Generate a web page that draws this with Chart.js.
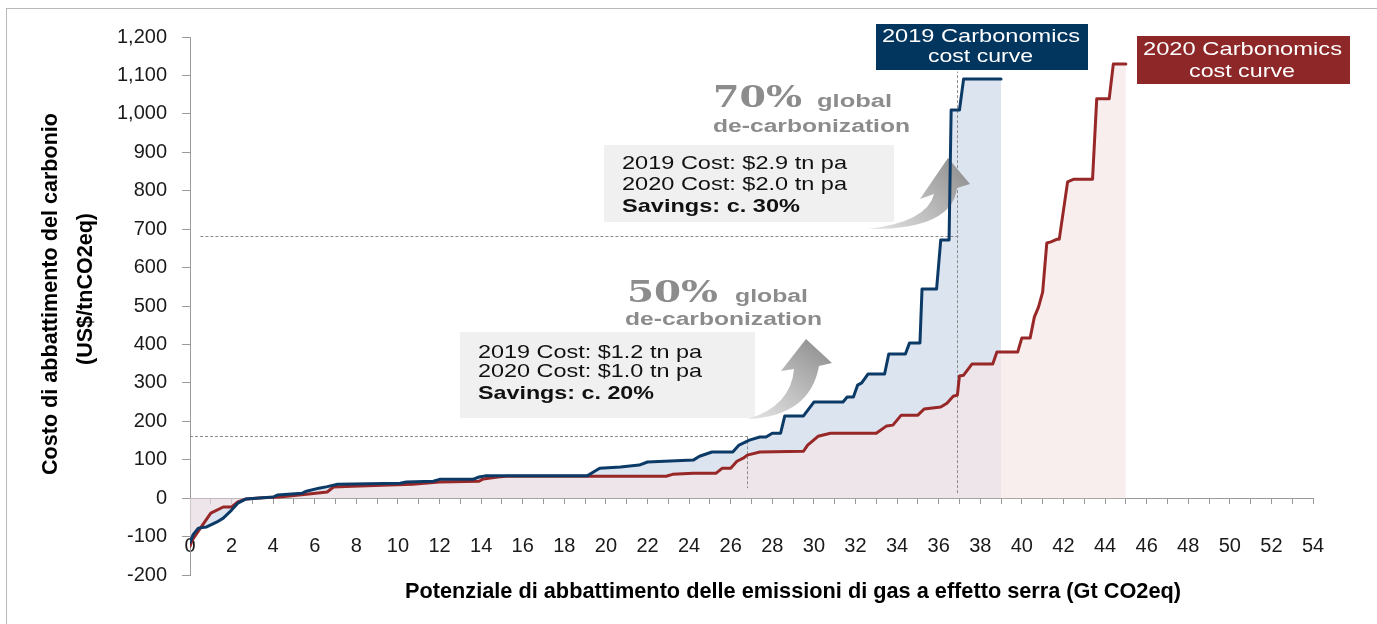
<!DOCTYPE html>
<html>
<head>
<meta charset="utf-8">
<script src="https://cdn.jsdelivr.net/npm/chart.js@4"></script>
<style>
  html, body { margin: 0; padding: 0; background: #fff; }
  #wrap { width: 1377px; height: 624px; }
</style>
</head>
<body>
<div id="wrap"><canvas id="costCurve" width="1377" height="624"></canvas></div>
<script>
// 2019 Carbonomics cost curve (Gt CO2eq vs US$/tnCO2eq)
const x2019 = [0.0, 0.15, 0.4, 0.8, 1.3, 1.6, 2.0, 2.3, 2.7, 3.5, 4.0, 4.2, 5.4, 5.6, 6.2, 6.6, 7.1, 10.1, 10.4, 11.7, 12.0, 13.6, 13.9, 14.2, 19.1, 19.4, 19.7, 20.7, 21.6, 22.0, 24.2, 24.5, 25.1, 26.1, 26.4, 26.9, 27.4, 27.7, 28.0, 28.4, 28.6, 29.5, 30.0, 31.4, 31.6, 31.9, 32.1, 32.3, 32.6, 33.4, 33.6, 34.4, 34.6, 35.1, 35.2, 35.9, 36.1, 36.5, 36.6, 37.0, 37.2, 39.0]
const y2019 = [-115, -95, -78, -75, -62, -52, -31, -13, -2, 1, 3, 8, 13, 18, 26, 30, 36, 39, 42, 44, 49, 49, 55, 58, 58, 68, 78, 81, 86, 94, 99, 109, 120, 120, 138, 151, 159, 159, 169, 169, 214, 214, 250, 250, 263, 263, 294, 300, 323, 323, 375, 375, 404, 404, 544, 544, 672, 672, 1010, 1010, 1091, 1091]

// 2020 Carbonomics cost curve
const x2020 = [0.0, 0.1, 0.5, 1.0, 1.6, 2.0, 2.3, 2.7, 3.5, 4.3, 5.6, 6.6, 6.9, 7.8, 10.7, 12.0, 13.9, 14.1, 14.8, 15.2, 22.9, 23.2, 24.2, 25.3, 25.6, 26.0, 26.3, 26.6, 26.8, 27.4, 29.5, 29.7, 30.2, 30.8, 33.0, 33.5, 33.8, 34.2, 35.0, 35.3, 36.1, 36.4, 36.7, 36.9, 37.0, 37.2, 37.6, 38.6, 38.8, 39.8, 40.0, 40.4, 40.6, 40.8, 41.0, 41.2, 41.4, 41.7, 41.8, 42.2, 42.5, 43.4, 43.6, 44.2, 44.4, 45.0]
const y2020 = [-125, -110, -78, -39, -23, -23, -10, -2, 1, 3, 10, 16, 29, 31, 36, 42, 44, 50, 55, 57, 57, 62, 65, 65, 78, 78, 96, 104, 112, 120, 122, 138, 161, 169, 169, 188, 190, 216, 216, 232, 237, 247, 265, 268, 318, 320, 349, 349, 380, 380, 417, 417, 471, 497, 536, 664, 667, 674, 674, 823, 830, 830, 1039, 1039, 1130, 1130]

// dashed guide lines, in data units: [xFrom, xTo, y] and [x, yFrom, yTo]
const guideH = [[0.5, 37.0, 683], [0, 26.8, 161]]
const guideV = [[36.9, 13, 1110], [26.8, 161, 26]]

const blue = '#0c3a67'
const red = '#982828'
const toPts = (xs, ys) => xs.map((x, i) => ({ x: x, y: ys[i] }))

function fitText(ctx, text, left, cy, width, font, color) {
  ctx.save()
  ctx.font = font
  const w = ctx.measureText(text).width
  ctx.translate(left, cy)
  ctx.scale(width / w, 1)
  ctx.fillStyle = color
  ctx.textBaseline = 'middle'
  ctx.textAlign = 'left'
  ctx.fillText(text, 0, 0)
  ctx.restore()
}

function drawArrow(ctx, p) {
  const g = ctx.createLinearGradient(p.tail[0], p.tail[1], p.tip[0], p.tip[1])
  g.addColorStop(0, 'rgba(225,225,225,0.9)')
  g.addColorStop(1, 'rgba(150,150,150,1)')
  ctx.save()
  ctx.fillStyle = g
  ctx.beginPath()
  ctx.moveTo(p.tail[0], p.tail[1])
  ctx.quadraticCurveTo(p.outerCtl[0], p.outerCtl[1], p.b[0], p.b[1])
  ctx.lineTo(p.r[0], p.r[1])
  ctx.lineTo(p.tip[0], p.tip[1])
  ctx.lineTo(p.l[0], p.l[1])
  ctx.lineTo(p.a[0], p.a[1])
  ctx.quadraticCurveTo(p.innerCtl[0], p.innerCtl[1], p.tail[0], p.tail[1])
  ctx.fill()
  ctx.restore()
}

const notes = {
  id: 'notes',
  beforeDatasetDraw(chart, args) {
    if (args.index !== 1) return
    const ctx = chart.ctx
    const xs = chart.scales.x, ys = chart.scales.y
    // dashed guides
    ctx.save()
    ctx.strokeStyle = '#8c8c8c'
    ctx.lineWidth = 1
    ctx.setLineDash([3, 2])
    guideH.forEach(g => {
      ctx.beginPath()
      ctx.moveTo(xs.getPixelForValue(g[0]), Math.round(ys.getPixelForValue(g[2])) + 0.5)
      ctx.lineTo(xs.getPixelForValue(g[1]), Math.round(ys.getPixelForValue(g[2])) + 0.5)
      ctx.stroke()
    })
    guideV.forEach(g => {
      ctx.beginPath()
      ctx.moveTo(Math.round(xs.getPixelForValue(g[0])) + 0.5, ys.getPixelForValue(g[1]))
      ctx.lineTo(Math.round(xs.getPixelForValue(g[0])) + 0.5, ys.getPixelForValue(g[2]))
      ctx.stroke()
    })
    ctx.restore()

    // grey boxes
    ctx.fillStyle = '#f0f0f0'
    ctx.fillRect(460, 332, 295, 86)
    ctx.fillRect(604, 145, 290, 77)
    const f = '19px "Liberation Sans", Arial, sans-serif'
    const fb = 'bold 19px "Liberation Sans", Arial, sans-serif'
    fitText(ctx, '2019 Cost: $1.2 tn pa', 478, 353, 224, f, '#111')
    fitText(ctx, '2020 Cost: $1.0 tn pa', 478, 372, 224, f, '#111')
    fitText(ctx, 'Savings: c. 20%', 478, 394, 176, fb, '#111')
    fitText(ctx, '2019 Cost: $2.9 tn pa', 622, 164, 225, f, '#111')
    fitText(ctx, '2020 Cost: $2.0 tn pa', 622, 185, 225, f, '#111')
    fitText(ctx, 'Savings: c. 30%', 622, 207, 178, fb, '#111')

    // de-carbonization headings
    const serif = 'bold 30px "DejaVu Serif", "Liberation Serif", serif'
    const gb = 'bold 18px "Liberation Sans", Arial, sans-serif'
    const grey = '#8c8c8c'
    fitText(ctx, '50%', 627, 294, 91, serif, grey)
    fitText(ctx, 'global', 735, 297, 73, gb, grey)
    fitText(ctx, 'de-carbonization', 625, 320, 197, gb, grey)
    fitText(ctx, '70%', 713, 99, 89, serif, grey)
    fitText(ctx, 'global', 817, 102, 75, gb, grey)
    fitText(ctx, 'de-carbonization', 713, 127, 197, gb, grey)

    // curved arrows
    drawArrow(ctx, { tail: [748, 419], outerCtl: [810, 416], b: [819, 366], r: [832, 363], tip: [806, 339], l: [781, 371], a: [794, 369], innerCtl: [791, 406] })
    drawArrow(ctx, { tail: [868, 229], outerCtl: [952, 230], b: [957, 188], r: [970, 184], tip: [948, 158], l: [920, 199], a: [934, 194], innerCtl: [927, 222] })
  },
  afterDraw(chart) {
    const ctx = chart.ctx
    // outer frame
    ctx.save()
    ctx.strokeStyle = '#b8b8b8'
    ctx.lineWidth = 1
    ctx.strokeRect(6.5, 8.5, 1420, 700)
    ctx.restore()

    // curve labels
    ctx.fillStyle = '#02365f'
    ctx.fillRect(876, 24, 212, 46)
    ctx.fillStyle = '#8e2727'
    ctx.fillRect(1137, 36, 213, 48)
    const lf = '19px "Liberation Sans", Arial, sans-serif'
    fitText(ctx, '2019 Carbonomics', 882, 37, 198, lf, '#fff')
    fitText(ctx, 'cost curve', 928, 57, 105, lf, '#fff')
    fitText(ctx, '2020 Carbonomics', 1143, 50, 199, lf, '#fff')
    fitText(ctx, 'cost curve', 1189, 72, 106, lf, '#fff')

    // axis titles
    const tf = 'bold 22px "Liberation Sans Narrow", "Liberation Sans", Arial, sans-serif'
    fitText(ctx, 'Potenziale di abbattimento delle emissioni di gas a effetto serra (Gt CO2eq)', 405, 592, 776, tf, '#000')
    ctx.save()
    ctx.translate(51, 294)
    ctx.rotate(-Math.PI / 2)
    fitText(ctx, 'Costo di abbattimento del carbonio', -181, 0, 362, tf, '#000')
    ctx.restore()
    ctx.save()
    ctx.translate(86, 289)
    ctx.rotate(-Math.PI / 2)
    fitText(ctx, '(US$/tnCO2eq)', -76, 0, 152, tf, '#000')
    ctx.restore()
  }
}

Chart.defaults.font.family = '"Liberation Sans", Arial, sans-serif'
Chart.defaults.color = '#1a1a1a'

const canvas = document.getElementById('costCurve')
const chart = new Chart(canvas, {
  type: 'line',
  data: {
    datasets: [{
      label: '2019 line',
      data: toPts(x2019, y2019),
      borderColor: blue,
      borderWidth: 3,
      fill: false,
      order: 0
    }, {
      label: '2020 line',
      data: toPts(x2020, y2020),
      borderColor: red,
      borderWidth: 3,
      fill: false,
      order: 1
    }, {
      label: '2020 area',
      data: toPts(x2020, y2020),
      borderWidth: 0,
      borderColor: 'rgba(0,0,0,0)',
      backgroundColor: 'rgba(246,229,229,0.66)',
      fill: 'origin',
      order: 2
    }, {
      label: '2019 area',
      data: toPts(x2019, y2019),
      borderWidth: 0,
      borderColor: 'rgba(0,0,0,0)',
      backgroundColor: 'rgba(30,80,160,0.155)',
      fill: 'origin',
      order: 3
    }]
  },
  options: {
    responsive: false,
    animation: false,
    events: [],
    elements: {
      point: { radius: 0 },
      line: { tension: 0, borderJoinStyle: 'round', borderCapStyle: 'round' }
    },
    layout: { padding: { left: 7, top: 37, right: 64, bottom: 49 } },
    plugins: {
      legend: { display: false },
      tooltip: { enabled: false }
    },
    scales: {
      x: {
        type: 'linear',
        position: { y: 0 },
        min: 0,
        max: 54,
        grid: { drawOnChartArea: false, drawTicks: true, tickLength: 5, color: '#9a9a9a' },
        border: { display: true, color: '#9a9a9a', width: 1 },
        ticks: {
          stepSize: 1,
          autoSkip: false,
          maxRotation: 0,
          padding: 31,
          font: { size: 20 },
          callback: v => (v % 2 === 0 ? String(v) : '')
        }
      },
      y: {
        type: 'linear',
        position: 'left',
        min: -200,
        max: 1200,
        afterFit: s => { s.width = 183 },
        grid: { drawOnChartArea: false, drawTicks: true, tickLength: 8, color: '#9a9a9a' },
        border: { display: true, color: '#9a9a9a', width: 1 },
        ticks: {
          stepSize: 100,
          padding: 15,
          font: { size: 20 },
          callback: v => v.toLocaleString('en-US')
        }
      }
    }
  },
  plugins: [notes]
})
</script>
</body>
</html>
